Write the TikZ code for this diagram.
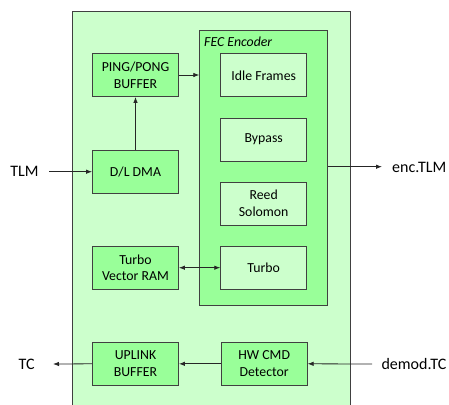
\documentclass[tikz,border=0pt]{standalone}
\usepackage{fontspec}
\setmainfont{Carlito}
\usetikzlibrary{arrows.meta,positioning}
\definecolor{paleg}{HTML}{CCFFCC}
\definecolor{midg}{HTML}{99FF99}
\definecolor{edgec}{HTML}{404040}
\begin{document}
\begin{tikzpicture}[x=1pt,y=-1pt,
  every node/.style={font=\fontsize{13.8}{16.7}\selectfont},
  blk/.style={draw=edgec,line width=0.9pt,fill=midg,minimum width=86pt,minimum height=43pt,align=center,inner sep=1pt},
  sub/.style={blk,fill=paleg},
  lbl/.style={inner sep=0pt,font=\fontsize{16}{19}\selectfont},
  conn/.style={line width=0.8pt,draw=black!85},
  tip/.style={-{Latex[length=6pt,width=4.5pt]}}
]
\useasboundingbox (0,0) rectangle (449,404);
\begin{scope}
\clip (0,0) rectangle (449,404);
% system enclosure
\node[draw=edgec,line width=0.9pt,fill=paleg,inner sep=0pt,minimum width=278pt,minimum height=410pt,anchor=north west] (sys) at (71.7,10.7) {};
\end{scope}
% FEC encoder container
\node[draw=edgec,line width=0.9pt,fill=midg,inner sep=0pt,minimum width=128pt,minimum height=275pt,anchor=north west] (fec) at (199.3,30) {};
\node[inner sep=0pt,anchor=base west,font=\fontsize{13.8}{16.7}\selectfont\itshape] (fect) at (204,46) {FEC Encoder};
% encoder stages
\node[sub] (idle) at (263.7,75.3) {Idle Frames};
\node[sub] (byp) at (263.7,139.5) {Bypass};
\node[sub] (rs) at (263.7,203.5) {Reed\\Solomon};
\node[sub] (turbo) at (263.7,267.7) {Turbo};
% left column
\node[blk] (ping) at (135.5,75) {PING/PONG\\BUFFER};
\node[blk] (dma) at (135.5,171.7) {D/L DMA};
\node[blk] (tvr) at (135.5,267.7) {Turbo\\Vector RAM};
\node[blk] (up) at (135.5,363.8) {UPLINK\\BUFFER};
\node[blk] (hw) at (264.2,363.8) {HW CMD\\Detector};
% external labels
\node[lbl] (tlm) at (24.5,171.7) {TLM};
\node[lbl] (tc) at (26.7,364) {TC};
\node[lbl] (enc) at (419.3,167) {enc.TLM};
\node[lbl] (demod) at (414,364) {demod.TC};
\coordinate (tlmend) at (49,171.7);
\coordinate (tcend) at (53,364);
\coordinate (encend) at (382,166.7);
\coordinate (demodend) at (372,364);
% connectors
\draw[conn,tip] (tlmend) -- (dma.west);
\draw[conn,tip] (dma.north) -- (ping.south);
\draw[conn,tip] (ping.east) -- (ping.east -| fec.west);
\draw[conn,tip] (fec.east |- encend) -- (encend);
\draw[conn,{Latex[length=6pt,width=4.5pt]}-{Latex[length=6pt,width=4.5pt]}] (tvr.east) -- (turbo.west);
\draw[conn,tip] (demodend) -- (hw.east);
\draw[conn,tip] (hw.west) -- (up.east);
\draw[conn,tip] (up.west) -- (tcend);
\end{tikzpicture}
\end{document}
